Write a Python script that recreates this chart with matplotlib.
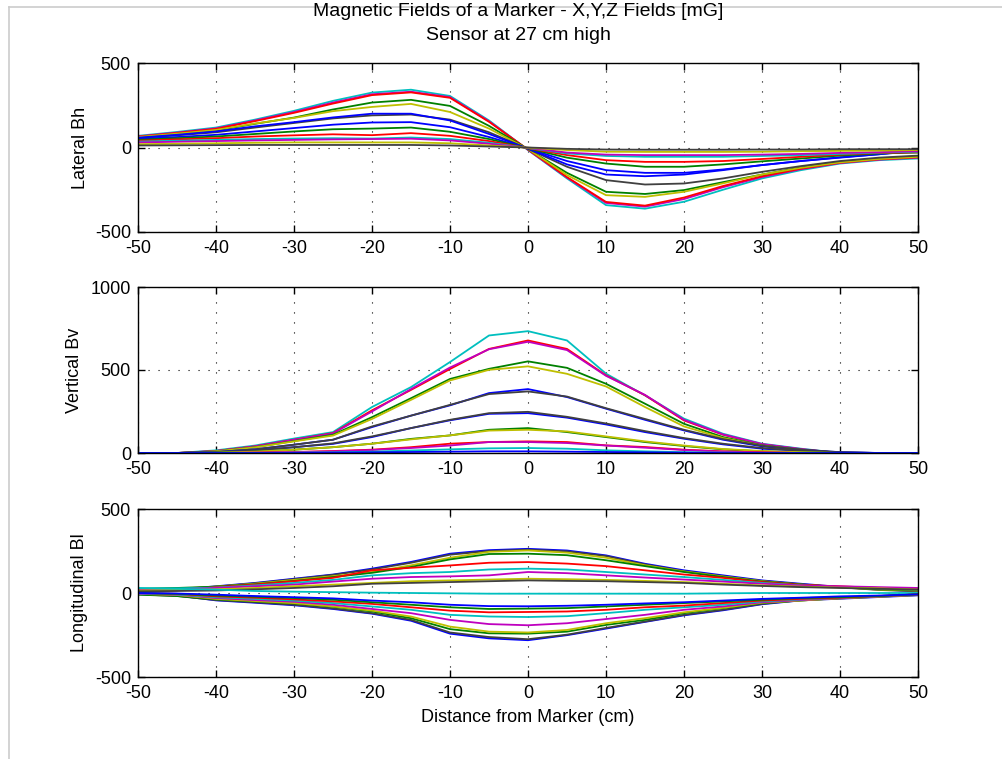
import matplotlib
matplotlib.use("Agg")
import matplotlib.pyplot as plt
from matplotlib.lines import Line2D

plt.rcParams['font.family'] = ['Liberation Sans', 'DejaVu Sans']

# ---------------- data ----------------
x_cm = [-50, -45, -40, -35, -30, -25, -20, -15, -10, -5, 0,
        5, 10, 15, 20, 25, 30, 35, 40, 45, 50]

title_line1 = "Magnetic Fields of a Marker - X,Y,Z Fields [mG]"
title_line2 = "Sensor at 27 cm high"
ylabels = ["Lateral Bh", "Vertical Bv", "Longitudinal Bl"]
xlabel = "Distance from Marker (cm)"

x_ticks = [-50, -40, -30, -20, -10, 0, 10, 20, 30, 40, 50]
bh_ticks = [-500, 0, 500]
bv_ticks = [0, 500, 1000]
bl_ticks = [-500, 0, 500]

# MATLAB default colour order
mat_b = (0.0, 0.0, 1.0)
mat_g = (0.0, 0.5, 0.0)
mat_r = (1.0, 0.0, 0.0)
mat_c = (0.0, 0.75, 0.75)
mat_m = (0.75, 0.0, 0.75)
mat_y = (0.75, 0.75, 0.0)
mat_k = (0.25, 0.25, 0.25)

# Lateral Bh curves
bh_colors = [mat_c, mat_m, mat_r, mat_g, mat_y, mat_k, mat_b, mat_b,
             mat_g, mat_r, mat_c, mat_m, mat_y, mat_k]
bh_01 = [69, 92, 118, 165, 217, 276, 325, 342, 305, 160, -15, -183, -341, -362, -321, -250, -183, -134, -95, -75, -65]
bh_02 = [66, 88, 113, 160, 210, 266, 315, 330, 298, 155, -14, -178, -328, -350, -305, -235, -175, -128, -92, -72, -60]
bh_03 = [64, 86, 110, 156, 205, 260, 310, 326, 294, 152, -12, -175, -322, -344, -296, -228, -170, -125, -90, -70, -58]
bh_04 = [60, 80, 100, 140, 177, 225, 266, 282, 246, 128, -10, -150, -262, -275, -252, -205, -160, -118, -85, -65, -52]
bh_05 = [62, 82, 104, 142, 175, 215, 240, 258, 210, 112, -9, -163, -282, -292, -262, -212, -160, -120, -88, -68, -55]
bh_06 = [55, 72, 90, 118, 145, 172, 190, 195, 165, 90, -8, -114, -193, -219, -213, -183, -144, -110, -80, -60, -48]
bh_07 = [58, 75, 95, 125, 150, 178, 200, 200, 160, 80, -7, -100, -160, -170, -160, -134, -104, -80, -60, -40, -20]
bh_08 = [50, 62, 75, 95, 115, 135, 148, 150, 120, 62, -6, -80, -134, -150, -150, -130, -104, -80, -58, -40, -15]
bh_09 = [45, 55, 65, 80, 95, 108, 112, 118, 93, 50, -5, -60, -95, -114, -114, -100, -82, -65, -48, -35, -30]
bh_10 = [40, 48, 55, 65, 72, 78, 73, 85, 69, 38, -4, -45, -75, -85, -85, -80, -68, -55, -42, -32, -28]
bh_11 = [35, 40, 45, 50, 53, 55, 53, 59, 50, 28, -3, -35, -50, -55, -55, -55, -50, -45, -38, -30, -25]
bh_12 = [30, 34, 38, 42, 45, 48, 50, 52, 42, 22, -2, -30, -42, -45, -45, -45, -42, -38, -32, -28, -22]
bh_13 = [20, 22, 25, 28, 30, 30, 30, 30, 25, 12, -1, -15, -25, -26, -26, -26, -25, -22, -20, -18, -15]
bh_14 = [12, 13, 14, 15, 15, 15, 15, 15, 12, 6, 0, -8, -12, -13, -13, -13, -12, -12, -10, -10, -10]
bh_series = [bh_01, bh_02, bh_03, bh_04, bh_05, bh_06, bh_07, bh_08,
             bh_09, bh_10, bh_11, bh_12, bh_13, bh_14]

# Vertical Bv curves
bv_colors = [mat_c, mat_r, mat_m, mat_g, mat_y, mat_b, mat_k, mat_b,
             mat_k, mat_g, mat_y, mat_r, mat_m, mat_c, mat_b]
bv_01 = [0, 0, 16, 45, 87, 126, 277, 397, 548, 708, 734, 678, 478, 347, 207, 116, 56, 26, 0, 0, 0]
bv_02 = [0, 0, 12, 40, 80, 120, 257, 380, 506, 627, 678, 627, 468, 348, 196, 110, 52, 22, 0, 0, 0]
bv_03 = [0, 0, 12, 40, 80, 118, 250, 385, 515, 625, 670, 620, 465, 350, 200, 112, 54, 24, 0, 0, 0]
bv_04 = [0, 0, 10, 35, 72, 110, 216, 330, 446, 507, 552, 513, 417, 297, 176, 96, 46, 20, 0, 0, 0]
bv_05 = [0, 0, 10, 34, 70, 105, 205, 320, 437, 501, 522, 477, 401, 277, 160, 90, 44, 18, 0, 0, 0]
bv_06 = [0, 0, 6, 22, 50, 80, 156, 225, 287, 361, 385, 337, 267, 200, 136, 80, 40, 18, 5, 0, 0]
bv_07 = [0, 0, 6, 22, 50, 80, 160, 225, 290, 355, 371, 340, 270, 205, 140, 84, 44, 20, 5, 0, 0]
bv_08 = [0, 0, 4, 15, 35, 55, 96, 150, 197, 236, 240, 213, 172, 126, 86, 52, 26, 12, 3, 0, 0]
bv_09 = [0, 0, 4, 15, 35, 58, 100, 150, 200, 240, 248, 218, 178, 132, 90, 56, 30, 14, 3, 0, 0]
bv_10 = [0, 0, 2, 8, 20, 35, 56, 85, 106, 140, 150, 126, 96, 66, 42, 22, 10, 4, 0, 0, 0]
bv_11 = [0, 0, 2, 8, 20, 35, 56, 82, 106, 135, 140, 130, 100, 70, 45, 24, 12, 5, 0, 0, 0]
bv_12 = [0, 0, 0, 2, 6, 12, 20, 35, 56, 66, 70, 66, 46, 36, 20, 10, 4, 0, 0, 0, 0]
bv_13 = [0, 0, 0, 2, 5, 10, 18, 30, 45, 66, 66, 60, 45, 32, 18, 8, 3, 0, 0, 0, 0]
bv_14 = [0, 0, 0, 0, 2, 4, 8, 15, 22, 28, 30, 26, 16, 10, 5, 2, 0, 0, 0, 0, 0]
bv_15 = [0, 0, 0, 0, 0, 2, 4, 6, 8, 10, 10, 8, 6, 4, 2, 0, 0, 0, 0, 0, 0]
bv_series = [bv_01, bv_02, bv_03, bv_04, bv_05, bv_06, bv_07, bv_08,
             bv_09, bv_10, bv_11, bv_12, bv_13, bv_14, bv_15]

# Longitudinal Bl curves
bl_colors = [mat_b, mat_k, mat_y, mat_g, mat_r, mat_c, mat_m, mat_y, mat_k, mat_c,
             mat_b, mat_k, mat_g, mat_y, mat_m, mat_c, mat_r, mat_g, mat_b]
bl_01 = [15, 20, 40, 60, 85, 110, 145, 185, 234, 255, 263, 253, 224, 174, 135, 105, 75, 55, 36, 20, 12]
bl_02 = [12, 18, 38, 58, 82, 108, 140, 180, 228, 250, 258, 248, 220, 170, 130, 100, 72, 52, 34, 18, 10]
bl_03 = [20, 25, 38, 55, 78, 100, 125, 165, 210, 245, 253, 240, 210, 165, 128, 98, 70, 50, 34, 20, 15]
bl_04 = [25, 30, 38, 52, 72, 95, 120, 155, 200, 232, 234, 225, 195, 160, 125, 95, 68, 50, 35, 22, 18]
bl_05 = [10, 15, 35, 50, 70, 90, 135, 150, 164, 180, 184, 175, 160, 135, 110, 90, 65, 48, 40, 30, 25]
bl_06 = [25, 28, 32, 45, 60, 78, 105, 118, 125, 140, 145, 140, 125, 110, 95, 78, 60, 45, 35, 28, 20]
bl_07 = [20, 22, 30, 40, 50, 68, 85, 95, 99, 105, 125, 118, 105, 92, 80, 68, 55, 45, 40, 35, 30]
bl_08 = [15, 18, 22, 30, 40, 50, 60, 70, 75, 80, 85, 82, 78, 72, 65, 55, 45, 38, 32, 28, 20]
bl_09 = [10, 12, 15, 22, 30, 40, 55, 60, 65, 70, 75, 72, 70, 65, 60, 50, 42, 35, 30, 25, 20]
bl_10 = [30, 25, 20, 12, 8, 5, 2, 0, -2, -4, -4, -4, -4, -4, -4, -2, 0, 0, 0, 0, 0]
bl_11 = [-5, -15, -44, -58, -73, -95, -123, -165, -242, -270, -281, -251, -212, -172, -133, -103, -67, -44, -34, -24, -14]
bl_12 = [-8, -18, -42, -55, -70, -92, -120, -160, -235, -262, -275, -248, -208, -170, -130, -100, -65, -42, -32, -22, -12]
bl_13 = [-10, -18, -38, -50, -62, -82, -110, -150, -215, -240, -242, -230, -190, -160, -120, -90, -60, -45, -30, -20, -10]
bl_14 = [-5, -12, -35, -48, -60, -80, -105, -140, -200, -230, -235, -220, -180, -150, -115, -88, -58, -45, -32, -22, -12]
bl_15 = [-5, -10, -30, -42, -52, -70, -95, -120, -160, -185, -192, -180, -155, -130, -100, -80, -55, -42, -30, -20, -10]
bl_16 = [-2, -8, -25, -35, -45, -60, -80, -100, -130, -140, -143, -138, -120, -100, -85, -70, -50, -38, -28, -18, -8]
bl_17 = [0, -5, -20, -28, -38, -50, -65, -85, -105, -115, -113, -110, -100, -85, -75, -60, -45, -35, -28, -18, -8]
bl_18 = [0, -5, -15, -22, -30, -40, -55, -70, -85, -95, -93, -90, -80, -70, -60, -50, -40, -30, -25, -18, -8]
bl_19 = [0, -3, -10, -18, -25, -32, -45, -55, -70, -78, -79, -76, -70, -62, -55, -45, -35, -28, -20, -15, -8]
bl_series = [bl_01, bl_02, bl_03, bl_04, bl_05, bl_06, bl_07, bl_08, bl_09, bl_10,
             bl_11, bl_12, bl_13, bl_14, bl_15, bl_16, bl_17, bl_18, bl_19]

# ---------------- figure ----------------
W, H = 1003, 759
fig = plt.figure(figsize=(W / 100, H / 100), dpi=100)
fig.patch.set_facecolor('white')

def axes_px(left, top, right, bottom):
    return [left / W, 1 - bottom / H, (right - left) / W, (bottom - top) / H]

ax1 = fig.add_axes(axes_px(138, 63, 918, 232))
ax2 = fig.add_axes(axes_px(138, 287, 918, 453))
ax3 = fig.add_axes(axes_px(138, 509, 918, 677))

panels = [
    (ax1, bh_series, bh_colors, bh_ticks, (-500, 500), ylabels[0], -0.063),
    (ax2, bv_series, bv_colors, bv_ticks, (0, 1000), ylabels[1], -0.071),
    (ax3, bl_series, bl_colors, bl_ticks, (-500, 500), ylabels[2], -0.064),
]

FS = 13
for ax, series, colors, yt, ylim, ylab, lx in panels:
    for vals, col in zip(series, colors):
        ax.plot(x_cm, vals, color=col, lw=1.3)
    ax.set_xlim(-50, 50)
    ax.set_ylim(*ylim)
    ax.set_xticks(x_ticks)
    ax.set_yticks(yt)
    ax.set_xticklabels([str(v) for v in x_ticks], fontsize=FS)
    ax.set_yticklabels([str(v) for v in yt], fontsize=FS)
    ax.grid(True, color='black', linestyle=(0, (1, 8)), linewidth=0.8)
    ax.tick_params(direction='in', length=5, width=1, top=True, right=True,
                   colors='black')
    ax.tick_params(axis='x', pad=6)
    ax.tick_params(axis='y', pad=5)
    for sp in ax.spines.values():
        sp.set_linewidth(1.0)
        sp.set_color('black')
    ax.set_ylabel(ylab, fontsize=FS)
    ax.yaxis.set_label_coords(lx, 0.5)

ax3.set_xlabel(xlabel, fontsize=FS, labelpad=5)

fig.text(518 / W, 1 - 12 / H, title_line1, ha='center', va='center', fontsize=14)
fig.text(518 / W, 1 - 35 / H, title_line2, ha='center', va='center', fontsize=14)

# window frame edges
fig.add_artist(Line2D([9 / W, 9 / W], [0, 1 - 7 / H], transform=fig.transFigure,
                      color=(0.8, 0.8, 0.8), lw=1.2))
fig.add_artist(Line2D([9 / W, 1], [1 - 7 / H, 1 - 7 / H], transform=fig.transFigure,
                      color=(0.8, 0.8, 0.8), lw=1.2))

fig.savefig("out.png", dpi=100)
